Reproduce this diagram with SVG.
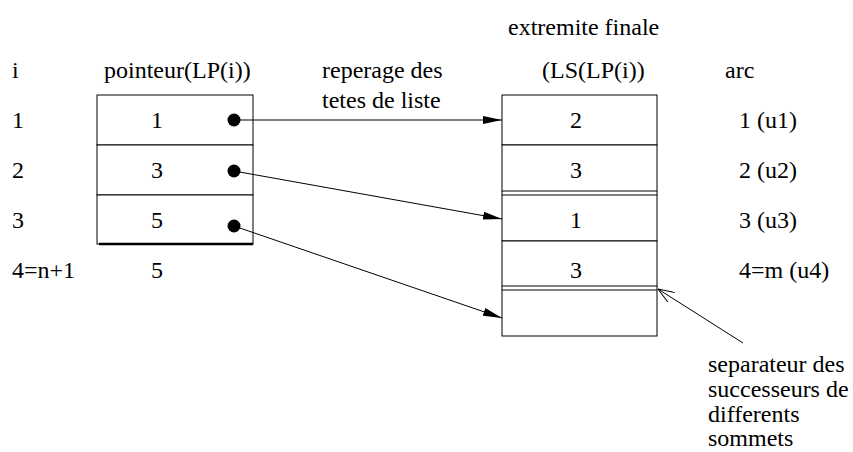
<svg xmlns="http://www.w3.org/2000/svg" width="853" height="452" viewBox="0 0 853 452">
<style>
.c{text-anchor:middle}
.b{fill:#fff;stroke:#000;stroke-width:1}
.l{stroke:#000;stroke-width:1;fill:none}
</style>
<defs>
<marker id="ah" viewBox="0 0 19 8" refX="19" refY="4" markerWidth="19" markerHeight="8" markerUnits="userSpaceOnUse" orient="auto">
<path d="M0,0 L19,4 L0,8 z" fill="#000"/>
</marker>
<marker id="oh" viewBox="0 0 16 12" refX="16" refY="6" markerWidth="16" markerHeight="12" markerUnits="userSpaceOnUse" orient="auto">
<path d="M0,0 L16,6 L0,12" fill="none" stroke="#000" stroke-width="1"/>
</marker>
</defs>
<rect width="853" height="452" fill="#fff"/>
<g id="headers">
<text style="font-family:'Liberation Serif',serif;font-size:24px" x="12" y="78">i</text>
<text style="font-family:'Liberation Serif',serif;font-size:24px" x="104" y="78">pointeur(LP(i))</text>
<text style="font-family:'Liberation Serif',serif;font-size:24px" x="322" y="78">reperage des</text>
<text style="font-family:'Liberation Serif',serif;font-size:24px" x="322" y="108">tetes de liste</text>
<text style="font-family:'Liberation Serif',serif;font-size:24px" x="508" y="35">extremite finale</text>
<text style="font-family:'Liberation Serif',serif;font-size:24px" x="542" y="78">(LS(LP(i))</text>
<text style="font-family:'Liberation Serif',serif;font-size:24px" x="725" y="78">arc</text>
</g>
<g id="index-labels">
<text style="font-family:'Liberation Serif',serif;font-size:24px" x="12" y="128">1</text>
<text style="font-family:'Liberation Serif',serif;font-size:24px" x="12" y="178">2</text>
<text style="font-family:'Liberation Serif',serif;font-size:24px" x="12" y="228">3</text>
<text style="font-family:'Liberation Serif',serif;font-size:24px" x="12" y="278">4=n+1</text>
</g>
<g id="lp-table">
<rect class="b" x="97" y="95" width="156" height="50"/>
<rect class="b" x="97" y="145" width="156" height="50"/>
<rect class="b" x="97" y="195" width="156" height="49"/>
<line x1="99" y1="244" x2="253" y2="244" stroke="#000" stroke-width="2.5"/>
<text class="c" style="font-family:'Liberation Serif',serif;font-size:24px" x="157" y="128">1</text>
<text class="c" style="font-family:'Liberation Serif',serif;font-size:24px" x="157" y="178">3</text>
<text class="c" style="font-family:'Liberation Serif',serif;font-size:24px" x="157" y="228">5</text>
<text class="c" style="font-family:'Liberation Serif',serif;font-size:24px" x="157" y="278">5</text>
<circle cx="234" cy="120" r="6.5"/>
<circle cx="234" cy="171" r="6.5"/>
<circle cx="234" cy="226" r="6.5"/>
</g>
<g id="ls-table">
<rect class="b" x="502" y="95" width="155" height="50"/>
<rect class="b" x="502" y="145" width="155" height="46"/>
<rect class="b" x="502" y="195" width="155" height="46"/>
<rect class="b" x="502" y="241" width="155" height="45"/>
<rect class="b" x="502" y="290" width="155" height="46"/>
<line class="l" x1="502" y1="191" x2="502" y2="195"/>
<line class="l" x1="657" y1="191" x2="657" y2="195"/>
<line class="l" x1="502" y1="286" x2="502" y2="290"/>
<line class="l" x1="657" y1="286" x2="657" y2="290"/>
<text class="c" style="font-family:'Liberation Serif',serif;font-size:24px" x="576" y="128">2</text>
<text class="c" style="font-family:'Liberation Serif',serif;font-size:24px" x="576" y="178">3</text>
<text class="c" style="font-family:'Liberation Serif',serif;font-size:24px" x="576" y="228">1</text>
<text class="c" style="font-family:'Liberation Serif',serif;font-size:24px" x="576" y="278">3</text>
</g>
<g id="arc-labels">
<text style="font-family:'Liberation Serif',serif;font-size:24px" x="739" y="128">1 (u1)</text>
<text style="font-family:'Liberation Serif',serif;font-size:24px" x="739" y="178">2 (u2)</text>
<text style="font-family:'Liberation Serif',serif;font-size:24px" x="739" y="228">3 (u3)</text>
<text style="font-family:'Liberation Serif',serif;font-size:24px" x="739" y="278">4=m (u4)</text>
</g>
<g id="separator-label">
<text style="font-family:'Liberation Serif',serif;font-size:24px" x="708" y="372">separateur des</text>
<text style="font-family:'Liberation Serif',serif;font-size:24px" x="708" y="397">successeurs de</text>
<text style="font-family:'Liberation Serif',serif;font-size:24px" x="708" y="422">differents</text>
<text style="font-family:'Liberation Serif',serif;font-size:24px" x="708" y="446">sommets</text>
</g>
<g id="connectors">
<line class="l" x1="234" y1="120" x2="502" y2="120" marker-end="url(#ah)"/>
<line class="l" x1="234" y1="171" x2="502" y2="219" marker-end="url(#ah)"/>
<line class="l" x1="234" y1="226" x2="502" y2="318" marker-end="url(#ah)"/>
<line class="l" x1="743" y1="343" x2="658" y2="289" marker-end="url(#oh)"/>
</g>
</svg>
